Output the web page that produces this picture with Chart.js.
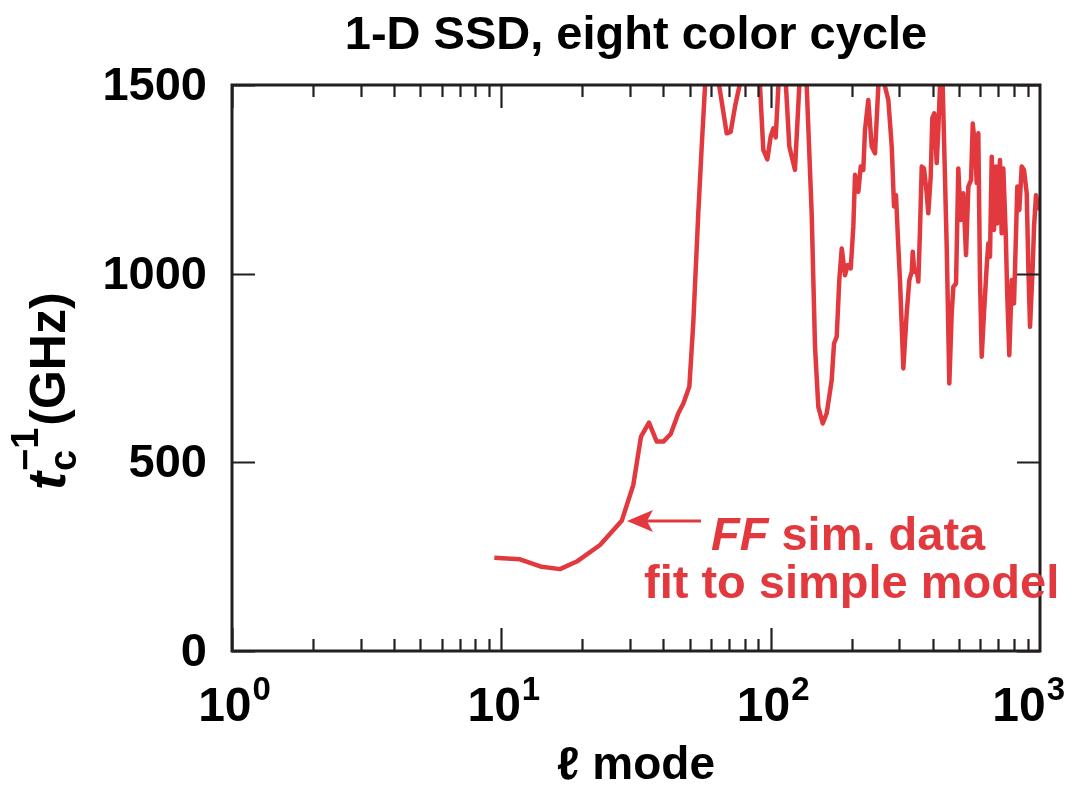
<!DOCTYPE html>
<html>
<head>
<meta charset="utf-8">
<title>1-D SSD, eight color cycle</title>
<script src="https://cdn.jsdelivr.net/npm/chart.js@4.4.1/dist/chart.umd.min.js"></script>
<style>
  html, body { margin: 0; padding: 0; background: #fff; }
  #wrap { width: 1069px; height: 786px; position: relative; }
</style>
</head>
<body>
<div id="wrap"><canvas id="tcChart"></canvas></div>
<script>
// l mode numbers and fitted t_c^-1 (GHz)
const modeL = [
  9.42, 11.73, 14.12, 16.51, 19.05, 23.25, 27.99, 30.9, 33.0, 35.34,
  37.76, 39.95, 42.55, 45.41, 47.4, 49.9, 51.6, 53.87, 55.46, 57.05,
  60.57, 64.47, 68.67, 71.05, 73.74, 76.5, 83.1, 91.3, 93.9, 97.2,
  100, 102.3, 104.4, 106.8, 110.2, 114.0, 117.3, 123.1, 127.7, 131.9,
  136.1, 142.0, 146.1, 150.3, 156.1, 161.5, 168.5, 171.9, 175.9, 179.8,
  183.6, 188.8, 193.2, 198.3, 202.7, 205.7, 211.6, 216.0, 220.8, 224.0,
  230.4, 237.2, 244.0, 251.0, 257.9, 265.8, 273.5, 281.5, 287.1, 292.0,
  297.8, 302.1, 310.9, 320.0, 327.2, 334.0, 336.9, 341.5, 348.5, 353.4,
  358.5, 363.8, 371.0, 379.6, 384.8, 392.8, 398.2, 405.1, 413.5, 419.2,
  425.3, 430.1, 435.3, 450.4, 460.6, 470.1, 476.6, 487.8, 497.4, 507.7,
  519.2, 531.3, 542.0, 554.6, 562.7, 573.9, 582.1, 590.2, 598.8, 607.5,
  619.5, 634.0, 642.8, 652.2, 661.8, 674.9, 686.6, 694.2, 710.3, 720.7,
  730.8, 745.9, 756.2, 769.2, 785.2, 800.8, 812.6, 823.7, 837.9, 855.3,
  872.2, 892.7, 905.0, 918.3, 939.7, 950.3, 966.3, 985.6, 1000
];
const rateGHz = [
  247, 243, 223, 217, 237, 281, 345, 440, 568, 605,
  555, 555, 575, 630, 656, 701, 869, 1161, 1337, 1496,
  1600, 1496, 1372, 1376, 1443, 1496, 1650, 1496, 1328, 1303,
  1363, 1385, 1361, 1496, 1600, 1496, 1337, 1275, 1496, 1620,
  1496, 1160, 806, 647, 603, 630, 718, 815, 833, 983,
  1067, 996, 1023, 1014, 1124, 1262, 1217, 1284, 1275, 1381,
  1460, 1337, 1319, 1496, 1650, 1496, 1460, 1337, 1178, 1208,
  1072, 983, 749, 896, 983, 1005, 1058, 1005, 1010, 979,
  1116, 1284, 1279, 1213, 1160, 1257, 1412, 1425, 1293, 1381,
  1496, 1560, 1496, 1072, 709, 895, 965, 974, 1279, 1142,
  1213, 1049, 1231, 1248, 1398, 1337, 1240, 1372, 983, 780,
  895, 1019, 1080, 1045, 1310, 1116, 1284, 1133, 1301, 1107,
  1279, 1107, 939, 784, 983, 921, 1080, 1231, 1169, 1284,
  1275, 1213, 1019, 859, 1019, 1124, 1208, 1178, 1169
];

const xTickExps = [0, 1, 2, 3];
const yTickValues = [0, 500, 1000, 1500];

const RED = '#e2393f';
const INK = '#231f20';
const FONT = '"Liberation Sans", Arial, Helvetica, sans-serif';

const points = modeL.map((l, i) => ({ x: l, y: rateGHz[i] }));

// frame, inward ticks, labels and the annotation are painted by hand
const decorPlugin = {
  id: 'decor',
  afterDatasetsDraw(chart) {
    const ctx = chart.ctx;
    const area = chart.chartArea;
    const xs = chart.scales.x;
    const ys = chart.scales.y;
    ctx.save();

    // box
    ctx.strokeStyle = INK;
    ctx.lineWidth = 3;
    ctx.strokeRect(area.left, area.top, area.right - area.left, area.bottom - area.top);

    // x ticks (log): majors at decades, minors 2..9
    ctx.lineWidth = 2.2;
    ctx.beginPath();
    for (let e = 0; e < 3; e++) {
      for (let m = 1; m <= 9; m++) {
        const v = m * Math.pow(10, e);
        const px = Math.round(xs.getPixelForValue(v)) + 0.5;
        const len = m === 1 ? 23 : 12;
        ctx.moveTo(px, area.bottom);
        ctx.lineTo(px, area.bottom - len);
        ctx.moveTo(px, area.top);
        ctx.lineTo(px, area.top + len);
      }
    }
    // y ticks
    yTickValues.forEach(v => {
      const py = Math.round(ys.getPixelForValue(v)) + 0.5;
      ctx.moveTo(area.left, py);
      ctx.lineTo(area.left + 23, py);
      ctx.moveTo(area.right, py);
      ctx.lineTo(area.right - 23, py);
    });
    ctx.stroke();

    // y tick labels
    ctx.fillStyle = '#000';
    ctx.font = 'bold 47px ' + FONT;
    ctx.textAlign = 'right';
    ctx.textBaseline = 'middle';
    yTickValues.forEach(v => {
      ctx.fillText(String(v), 207, ys.getPixelForValue(v) + 2);
    });

    // x tick labels 10^n, last one kept inside the canvas
    ctx.textBaseline = 'alphabetic';
    ctx.textAlign = 'left';
    xTickExps.forEach(n => {
      const px = xs.getPixelForValue(Math.pow(10, n));
      ctx.font = 'bold 48px ' + FONT;
      const wBase = ctx.measureText('10').width;
      ctx.font = 'bold 33px ' + FONT;
      const wExp = ctx.measureText(String(n)).width;
      let x0 = px - (wBase + wExp) / 2 + 2;
      x0 = Math.min(x0, 1064 - wBase - wExp);
      ctx.font = 'bold 48px ' + FONT;
      ctx.fillText('10', x0, 721);
      ctx.font = 'bold 33px ' + FONT;
      ctx.fillText(String(n), x0 + wBase + 1, 700);
    });

    // x axis title
    ctx.font = 'bold 46px ' + FONT;
    ctx.textAlign = 'center';
    ctx.fillText('\u2113 mode', (area.left + area.right) / 2, 779);

    // title
    ctx.font = 'bold 47px ' + FONT;
    ctx.fillText('1-D SSD, eight color cycle', (area.left + area.right) / 2, 49);

    // y axis title, rotated
    ctx.save();
    ctx.translate(65, 490);
    ctx.rotate(-Math.PI / 2);
    ctx.textAlign = 'left';
    ctx.font = 'italic bold 54px ' + FONT;
    ctx.fillText('t', 0, 0);
    let cx = ctx.measureText('t').width + 1;
    ctx.font = 'bold 38px ' + FONT;
    ctx.fillText('c', cx, 11);
    ctx.fillText('\u22121', cx, -27);
    cx += ctx.measureText('\u22121').width + 2;
    ctx.font = 'bold 50px ' + FONT;
    ctx.fillText('(GHz)', cx, 0);
    ctx.restore();

    // annotation arrow and text
    ctx.strokeStyle = RED;
    ctx.fillStyle = RED;
    ctx.lineWidth = 3;
    ctx.beginPath();
    ctx.moveTo(701, 521);
    ctx.lineTo(645, 521);
    ctx.stroke();
    ctx.beginPath();
    ctx.moveTo(627, 521);
    ctx.lineTo(653, 510);
    ctx.lineTo(647, 521);
    ctx.lineTo(653, 532);
    ctx.closePath();
    ctx.fill();

    ctx.textAlign = 'left';
    ctx.font = 'italic bold 47px ' + FONT;
    ctx.fillText('FF', 711, 550);
    const wFF = ctx.measureText('FF').width;
    ctx.font = 'bold 47px ' + FONT;
    ctx.fillText(' sim. data', 711 + wFF, 550);
    ctx.fillText('fit to simple model', 644, 598);

    ctx.restore();
  }
};

new Chart(document.getElementById('tcChart'), {
  type: 'line',
  data: {
    datasets: [{
      label: 'FF sim. data',
      data: points,
      borderColor: RED,
      borderWidth: 4.5,
      borderJoinStyle: 'round',
      pointRadius: 0,
      tension: 0,
      fill: false,
      clip: 0
    }]
  },
  options: {
    responsive: true,
    maintainAspectRatio: false,
    animation: false,
    layout: { padding: { left: 232, right: 29, top: 85, bottom: 135 } },
    plugins: {
      legend: { display: false },
      tooltip: { enabled: false },
      title: { display: false }
    },
    scales: {
      x: { type: 'logarithmic', min: 1, max: 1000, display: false },
      y: { type: 'linear', min: 0, max: 1500, display: false }
    }
  },
  plugins: [decorPlugin]
});
</script>
</body>
</html>
